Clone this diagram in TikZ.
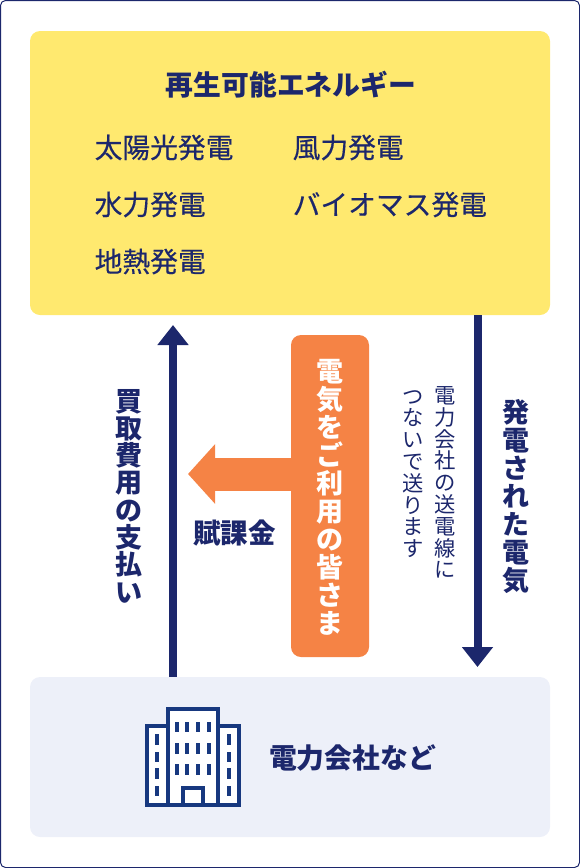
\documentclass[tikz,border=0pt]{standalone}
\usepackage{fontspec}
\setmainfont{Noto Sans CJK JP}
\newfontfamily\medfont[FakeBold=0.35]{Noto Sans CJK JP}
\usepackage{xcolor}
\usetikzlibrary{positioning,arrows.meta,calc}
\definecolor{navy}{HTML}{1C276C}
\definecolor{iconblue}{HTML}{17387F}
\definecolor{sunny}{HTML}{FFE96F}
\definecolor{pale}{HTML}{EDF0F9}
\definecolor{carrot}{HTML}{F58345}
\lineskiplimit=-20pt
\normallineskiplimit=-20pt

\begin{document}
\begin{tikzpicture}[
  x=1pt, y=-1pt,
  panel/.style={rounded corners=10pt, minimum width=520pt, inner sep=0pt},
  lab/.style={text=navy, inner sep=0pt, font=\bfseries\fontsize{#1}{#1}\selectfont},
  lab/.default=27.5,
  item/.style={text=navy, anchor=west, inner sep=0pt, font=\medfont\fontsize{27.75}{28}\selectfont},
  vlab/.style={text=navy, inner sep=0pt, align=center, font=\bfseries\fontsize{27}{27.3}\selectfont},
  vsmall/.style={text=navy, inner sep=0pt, align=center, font=\fontsize{21.3}{21.8}\selectfont},
  arr/.style={navy, line width=8pt, -{Triangle[length=20pt,width=30pt]}},
  win/.style={fill=iconblue, minimum width=4pt, minimum height=10.5pt, inner sep=0pt}
]
\useasboundingbox (0,0) rectangle (580,868);
\node[draw=navy, line width=1pt, rounded corners=5pt, minimum width=579pt, minimum height=867pt, inner sep=0pt] (frame) at (290,434) {};
\node[panel, fill=sunny, minimum height=284pt] (source) at (290,173) {};
\node[panel, fill=pale, minimum height=160pt] (utility) at (290,757) {};
\node[fill=carrot, rounded corners=10pt, minimum width=78pt, minimum height=322pt, inner sep=0pt] (user) at (330,496) {};

\node[lab=27.8] (title) at (291,85) {再生可能エネルギー};
\foreach \n/\x/\y/\lab in {solar/94.5/147.5/太陽光発電, wind/292.5/147.5/風力発電, hydro/94.5/204.5/水力発電, bio/292.5/204.5/バイオマス発電, geo/94.5/261.5/地熱発電} {
  \node[item] (\n) at (\x,\y) {\lab};
}

\coordinate (buytip) at (173,325);
\coordinate (gridtip) at (477.5,667);
\coordinate (levytip) at (188,474);
\draw[arr] (buytip |- utility.north) -- (buytip);
\draw[arr] (gridtip |- source.south) -- (gridtip);
\draw[carrot, line width=33pt, -{Triangle[length=27pt,width=58pt]}] (levytip -| user.west) -- (levytip);

\node[vlab] (buy) at (129,496) {買\\取\\費\\用\\の\\支\\払\\い};
\node[vlab, text=white, font=\bfseries\fontsize{27}{28}\selectfont] (userlab) at (330,497) {電\\気\\を\\ご\\利\\用\\の\\皆\\さ\\ま};
\node[vlab, font=\bfseries\fontsize{27}{28}\selectfont] (made) at (516,497) {発\\電\\さ\\れ\\た\\電\\気};
\node[vsmall] (line1) at (445,482.5) {電\\力\\会\\社\\の\\送\\電\\線\\に};
\node[vsmall] (line2) at (413,474) {つ\\な\\い\\で\\送\\り\\ま\\す};
\node[lab=27.5] (levy) at (234.5,533) {賦課金};
\node[lab=27.8] (company) at (352.5,758) {電力会社など};

\draw[iconblue, line width=4pt, fill=white] (147,726) rectangle (238.7,804.7);
\draw[iconblue, line width=4pt, fill=white] (167.7,709.3) rectangle (218.3,804.7);
\draw[iconblue, line width=4pt] (182.7,804.7) -- (182.7,787.7) -- (203.3,787.7) -- (203.3,804.7);
\foreach \y in {727,748.5,769.5} {
  \foreach \x in {176.7,187.3,198,209} {
    \node[win] at (\x,\y) {};
  }
}
\foreach \y in {739.7,756.9,773.7,790.9} {
  \node[win] at (157.3,\y) {};
  \node[win] at (228.7,\y) {};
}
\end{tikzpicture}
\end{document}
